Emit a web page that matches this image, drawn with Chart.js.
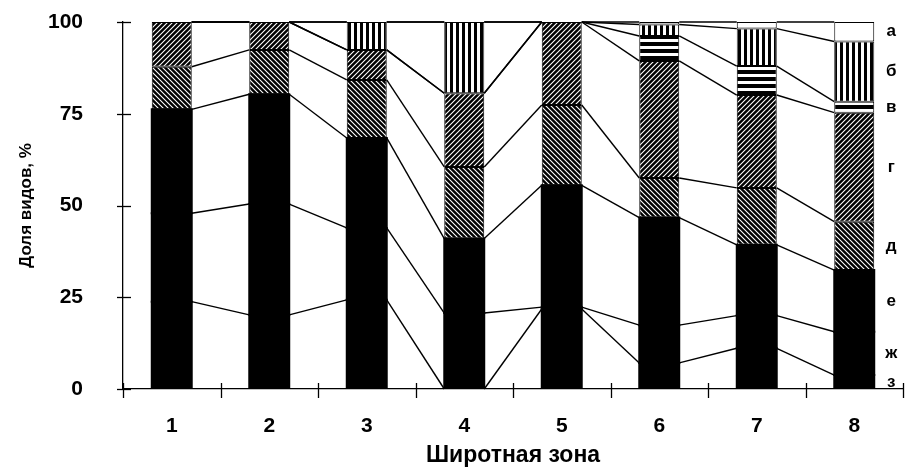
<!DOCTYPE html>
<html><head><meta charset="utf-8">
<script src="https://cdn.jsdelivr.net/npm/chart.js@4.4.1/dist/chart.umd.min.js"></script>
<style>html,body{margin:0;padding:0;background:#fff}#wrap{width:905px;height:467px;position:relative}</style>
</head><body><div id="wrap"><canvas id="c"></canvas></div>
<script>
// Categories (latitudinal zones)
const zones = ['1','2','3','4','5','6','7','8'];
// Series names, bottom to top
const seriesNames = ['з','ж','е','д','г','в','б','а'];
// Share of species, % (segment values per zone)
const valZ  = [23.8, 20.2, 24.3,  0.0, 21.8,  7.1, 11.1,  3.8];
const valZh = [24.1, 30.2, 19.6, 20.7,  0.5, 10.3,  8.9, 11.8];
const valE  = [28.3, 29.9, 24.5, 20.3, 33.2, 29.3, 19.3, 16.8];
const valD  = [11.6, 12.1, 15.8, 19.5, 21.9, 10.8, 15.5, 13.2];
const valG  = [12.2,  7.6,  8.2, 20.1, 22.6, 31.9, 25.3, 29.7];
const valV  = [ 0.0,  0.0,  0.0,  0.0,  0.0,  6.8,  7.9,  3.0];
const valB  = [ 0.0,  0.0,  7.6, 19.4,  0.0,  3.1, 10.2, 16.4];
const valA  = [ 0.0,  0.0,  0.0,  0.0,  0.0,  0.7,  1.8,  5.3];
const yTicks = [0, 25, 50, 75, 100];

const canvas = document.getElementById('c');
const ctx0 = canvas.getContext('2d');

function tile(w, h, draw) {
  const c = document.createElement('canvas');
  c.width = w; c.height = h;
  const g = c.getContext('2d');
  draw(g);
  return ctx0.createPattern(c, 'repeat');
}
const solid = '#000';
const hatchBack = tile(5, 5, g => { // "\\" hatch
  g.fillStyle = '#000'; g.fillRect(0, 0, 5, 5);
  g.strokeStyle = '#fff'; g.lineWidth = 1.1; g.beginPath();
  g.moveTo(0, 0); g.lineTo(5, 5); g.moveTo(4, -1); g.lineTo(6, 1); g.moveTo(-1, 4); g.lineTo(1, 6);
  g.stroke();
});
const hatchFwd = tile(5, 5, g => { // "//" hatch
  g.fillStyle = '#000'; g.fillRect(0, 0, 5, 5);
  g.strokeStyle = '#fff'; g.lineWidth = 1.1; g.beginPath();
  g.moveTo(0, 5); g.lineTo(5, 0); g.moveTo(-1, 1); g.lineTo(1, -1); g.moveTo(4, 6); g.lineTo(6, 4);
  g.stroke();
});
const horiz = tile(1, 7, g => {
  g.fillStyle = '#fff'; g.fillRect(0, 0, 1, 7);
  g.fillStyle = '#000'; g.fillRect(0, 0, 1, 4);
});
const vert = tile(6, 1, g => {
  g.fillStyle = '#fff'; g.fillRect(0, 0, 6, 1);
  g.fillStyle = '#000'; g.fillRect(0, 0, 3, 1);
});

const values = [valZ, valZh, valE, valD, valG, valV, valB, valA];
const fills = [solid, solid, solid, hatchBack, hatchFwd, horiz, vert, '#fff'];

const FONT = '"Liberation Sans", Arial, sans-serif';

const deco = {
  id: 'deco',
  beforeDraw(chart) {
    const c = chart.ctx;
    c.save(); c.fillStyle = '#fff'; c.fillRect(0, 0, chart.width, chart.height); c.restore();
  },
  afterDatasetsDraw(chart) {
    const c = chart.ctx;
    c.save();
    c.strokeStyle = '#000'; c.lineWidth = 1.4;
    chart.data.datasets.forEach((ds, di) => {
      const meta = chart.getDatasetMeta(di);
      for (let i = 0; i < meta.data.length - 1; i++) {
        const a = meta.data[i].getProps(['x', 'y', 'width'], true);
        const b = meta.data[i + 1].getProps(['x', 'y', 'width'], true);
        c.beginPath();
        c.moveTo(a.x + a.width / 2, a.y);
        c.lineTo(b.x - b.width / 2, b.y);
        c.stroke();
      }
    });
    // series name labels beside the last bar
    c.fillStyle = '#000';
    c.font = 'bold 17px ' + FONT;
    c.textAlign = 'center'; c.textBaseline = 'middle';
    chart.data.datasets.forEach((ds, di) => {
      const meta = chart.getDatasetMeta(di);
      const el = meta.data[meta.data.length - 1].getProps(['x', 'y', 'base', 'width'], true);
      c.fillText(seriesNames[di], el.x + el.width / 2 + 17, (el.y + el.base) / 2);
    });
    c.restore();
  },
  afterDraw(chart) {
    const c = chart.ctx, xs = chart.scales.x, ys = chart.scales.y;
    c.save(); c.strokeStyle = '#000'; c.lineWidth = 1.3;
    yTicks.forEach(v => {
      const y = Math.round(ys.getPixelForValue(v)) + 0.5;
      c.beginPath(); c.moveTo(xs.left - 6, y); c.lineTo(xs.left + 8, y); c.stroke();
    });
    const n = zones.length;
    for (let i = 0; i <= n; i++) {
      let x;
      if (i === 0) x = xs.left; else if (i === n) x = xs.right;
      else x = (xs.getPixelForValue(i - 1) + xs.getPixelForValue(i)) / 2;
      x = Math.round(x) + 0.5;
      c.beginPath(); c.moveTo(x, ys.bottom - 6); c.lineTo(x, ys.bottom + 9); c.stroke();
    }
    c.restore();
  }
};

new Chart(canvas, {
  type: 'bar',
  data: {
    labels: zones,
    datasets: values.map((v, i) => ({
      label: seriesNames[i],
      data: v,
      backgroundColor: fills[i],
      borderColor: '#000',
      borderWidth: fills[i] === solid ? 0 : 1,
      borderSkipped: false,
      inflateAmount: fills[i] === solid ? 1 : 'auto',
      barPercentage: 0.41,
      categoryPercentage: 1.0
    }))
  },
  options: {
    responsive: true,
    maintainAspectRatio: false,
    animation: false,
    layout: { padding: { top: 22, right: 2, left: 0, bottom: 0 } },
    plugins: { legend: { display: false }, tooltip: { enabled: false } },
    scales: {
      x: {
        stacked: true,
        grid: { display: false },
        border: { display: true, color: '#000', width: 1.3 },
        ticks: { color: '#000', font: { family: FONT, size: 21, weight: 'bold' }, padding: 17 },
        title: { display: true, text: 'Широтная зона', color: '#000',
                 font: { family: FONT, size: 23, weight: 'bold' }, padding: { top: 0, bottom: -2 } },
        afterFit(s) { s.height = 78; }
      },
      y: {
        stacked: true,
        min: 0, max: 100,
        afterBuildTicks(s) { s.ticks = yTicks.map(v => ({ value: v })); },
        grid: { display: false },
        border: { display: true, color: '#000', width: 1.3 },
        ticks: { color: '#000', font: { family: FONT, size: 21, weight: 'bold' }, padding: 32 },
        title: { display: true, text: 'Доля видов, %', color: '#000',
                 font: { family: FONT, size: 17, weight: 'bold' }, padding: { top: 16, bottom: 0 } },
        afterFit(s) { s.width = 123; s.paddingTop = 0; s.paddingBottom = 0; }
      }
    }
  },
  plugins: [deco]
});
</script>
</body></html>
